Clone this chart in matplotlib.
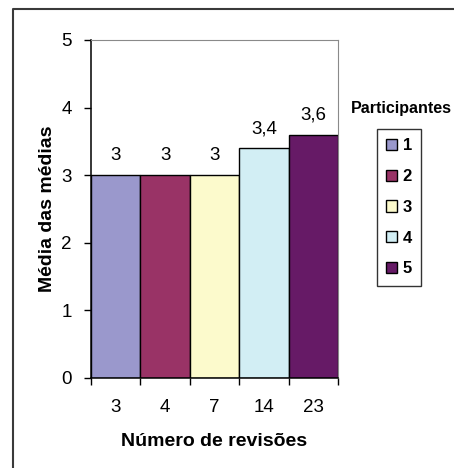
import matplotlib

matplotlib.use("Agg")
import matplotlib.pyplot as plt
from matplotlib.lines import Line2D
from matplotlib.patches import Patch

plt.rcParams["font.family"] = ["Liberation Sans", "DejaVu Sans"]

# data
revisoes = ["3", "4", "7", "14", "23"]
participantes = ["1", "2", "3", "4", "5"]
medias = [3.0, 3.0, 3.0, 3.4, 3.6]
cores = ["#9a98cc", "#993366", "#fcfacc", "#d2eef4", "#661a66"]

W, H = 454, 468
fig = plt.figure(figsize=(W / 100, H / 100), dpi=100)
ax = fig.add_axes([91 / W, 1 - 378 / H, 247 / W, 338 / H])

xs = list(range(len(medias)))
bars = ax.bar(xs, medias, width=1.0, color=cores, edgecolor="black", linewidth=1.0, zorder=2)

for x, v in zip(xs, medias):
    txt = f"{v:g}".replace(".", ",")
    ax.annotate(txt, (x, v), xytext=(0, 8), textcoords="offset points",
                ha="center", va="bottom", fontsize=13.5)

ax.set_xlim(-0.5, len(medias) - 0.5)
ax.set_ylim(0, 5)
ax.set_yticks([0, 1, 2, 3, 4, 5])
ax.set_yticklabels(["0", "1", "2", "3", "4", "5"])

# ticks sit on the bar edges, labels in the middle
ax.set_xticks([x - 0.5 for x in xs] + [xs[-1] + 0.5])
ax.set_xticklabels([])
ax.set_xticks(xs, minor=True)
ax.set_xticklabels(revisoes, minor=True)
ax.tick_params(axis="x", which="major", direction="out", length=5, width=1)
ax.tick_params(axis="x", which="minor", length=0, pad=15, labelsize=13.5)
ax.tick_params(axis="y", direction="out", length=5, width=1, pad=9, labelsize=13.5)

for s in ["top", "right"]:
    ax.spines[s].set_color("#8a8a8a")
for s in ["left", "bottom"]:
    ax.spines[s].set_linewidth(1.1)

ax.set_xlabel("Número de revisões", fontsize=14, fontweight="bold", labelpad=12)
ax.set_ylabel("Média das médias", fontsize=14, fontweight="bold", labelpad=4)

handles = [Patch(facecolor=c, edgecolor="black", linewidth=1.0) for c in cores]
leg = fig.legend(handles, participantes, loc="upper left",
                 bbox_to_anchor=(377 / W, 1 - 129 / H), borderaxespad=0,
                 prop={"weight": "bold", "size": 12},
                 handlelength=0.65, handleheight=0.65, handletextpad=0.35,
                 labelspacing=0.95, borderpad=0.55, frameon=True, fancybox=False)
leg.get_frame().set_edgecolor("black")
leg.get_frame().set_linewidth(1.0)
fig.text(401 / W, 1 - 108 / H, "Participantes", ha="center", va="center",
         fontsize=11.5, fontweight="bold")

# outer chart frame (only left and top edges are visible in the crop)
fig.add_artist(Line2D([13 / W, 13 / W, 1.0], [0.0, 1 - 9 / H, 1 - 9 / H],
                      transform=fig.transFigure, color="#3a3a3a", linewidth=1.5))

fig.savefig("out.png", dpi=100)
